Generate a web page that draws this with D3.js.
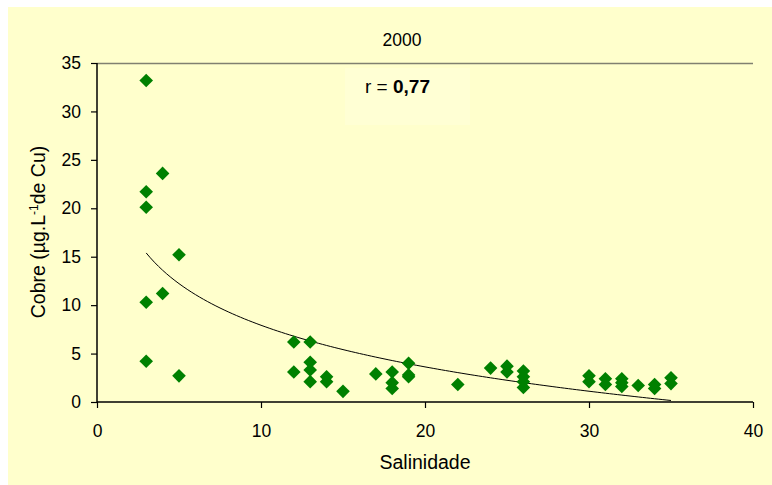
<!DOCTYPE html>
<html><head><meta charset="utf-8">
<script src="https://cdn.jsdelivr.net/npm/d3@7"></script>
<style>
html,body{margin:0;padding:0;background:#fff;}
svg{display:block;font-family:"Liberation Sans",Arial,sans-serif;}
</style></head>
<body>
<svg id="c" width="772" height="485"></svg>
<script>
const salinity = [3,3,3,3,3, 4,4, 5,5, 12,12, 13,13,13,13, 14,14, 15, 17, 18,18,18, 19,19,19, 22, 24, 25,25, 26,26,26,26, 30,30, 31,31, 32,32,32, 33, 34,34, 35,35];
const copper   = [33.2,21.7,20.1,10.3,4.2, 23.6,11.2, 15.2,2.7, 6.2,3.1, 6.2,4.1,3.3,2.1, 2.6,2.1, 1.1, 2.9, 3.1,2.0,1.4, 4.0,2.8,2.6, 1.8, 3.5, 3.7,3.1, 3.2,2.6,2.1,1.5, 2.7,2.1, 2.4,1.8, 2.4,2.0,1.6, 1.7, 1.8,1.4, 2.5,1.9];
const xTicks = [0,10,20,30,40];
const yTicks = [0,5,10,15,20,25,30,35];
const title = "2000";
const rLabel = "0,77";
// logarithmic trendline: y = trendA - trendB * ln(x), x from 3 to 35
const trendA = 22.2, trendB = 6.2;
const trendRange = [3, 35];

const svg = d3.select("#c");
svg.append("rect").attr("x",8).attr("y",7).attr("width",764).attr("height",478).attr("fill","#FFFFCC");

const L=97,R=753,T=63,B=402;
const x = d3.scaleLinear().domain([0,40]).range([L,R]);
const y = d3.scaleLinear().domain([0,35]).range([B,T]);

// plot top border
svg.append("line").attr("x1",L).attr("x2",R).attr("y1",T+0.5).attr("y2",T+0.5).attr("stroke","#808070").attr("stroke-width",1.5);

// r box
svg.append("rect").attr("x",345).attr("y",68).attr("width",125).attr("height",57).attr("fill","#FFFFD4");
const rt = svg.append("text").attr("x",365).attr("y",93).attr("font-size",19).attr("fill","#000");
rt.append("tspan").text("r = ");
rt.append("tspan").attr("font-weight","bold").text(rLabel);

// axes
const xAxis = d3.axisBottom(x).tickValues(xTicks).tickSize(6).tickPadding(17).tickFormat(d3.format("d"));
const yAxis = d3.axisLeft(y).tickValues(yTicks).tickSize(6).tickPadding(10).tickFormat(d3.format("d"));
const gx = svg.append("g").attr("transform",`translate(0,${B})`).call(xAxis);
const gy = svg.append("g").attr("transform",`translate(${L},0)`).call(yAxis);
[gx,gy].forEach(g=>{
  g.select(".domain").attr("stroke","#000").attr("stroke-width",1.5);
  g.selectAll(".tick line").attr("stroke","#000").attr("stroke-width",1.2);
  g.selectAll(".tick text").attr("font-size",17.5).attr("fill","#000").attr("font-family","Liberation Sans, Arial, sans-serif");
});
gy.select(".domain").attr("d",`M0,${B}V${T}`);
gx.select(".domain").attr("d",`M${L},0H${R}`);

// trend line
const xs = d3.range(trendRange[0], trendRange[1]+0.001, 0.25);
svg.append("path").datum(xs)
  .attr("d", d3.line().x(d=>x(d)).y(d=>y(trendA - trendB*Math.log(d))))
  .attr("fill","none").attr("stroke","#000").attr("stroke-width",1);

// points
const s=6.8;
svg.append("g").selectAll("path").data(salinity.map((v,i)=>[v,copper[i]])).join("path")
  .attr("d",d=>`M${x(d[0])},${y(d[1])-s}L${x(d[0])+s},${y(d[1])}L${x(d[0])},${y(d[1])+s}L${x(d[0])-s},${y(d[1])}Z`)
  .attr("fill","#008000");

// titles
svg.append("text").attr("x",402).attr("y",46).attr("text-anchor","middle").attr("font-size",17.5).text(title);
svg.append("text").attr("x",425).attr("y",469).attr("text-anchor","middle").attr("font-size",19.5).text("Salinidade");
const yl = svg.append("text").attr("transform","translate(45,232) rotate(-90)").attr("text-anchor","middle").attr("font-size",19.5);
yl.append("tspan").text("Cobre (µg.L");
yl.append("tspan").attr("font-size",12).attr("dy",-7).text("-1");
yl.append("tspan").attr("dy",7).text("de Cu)");
</script>
</body></html>
